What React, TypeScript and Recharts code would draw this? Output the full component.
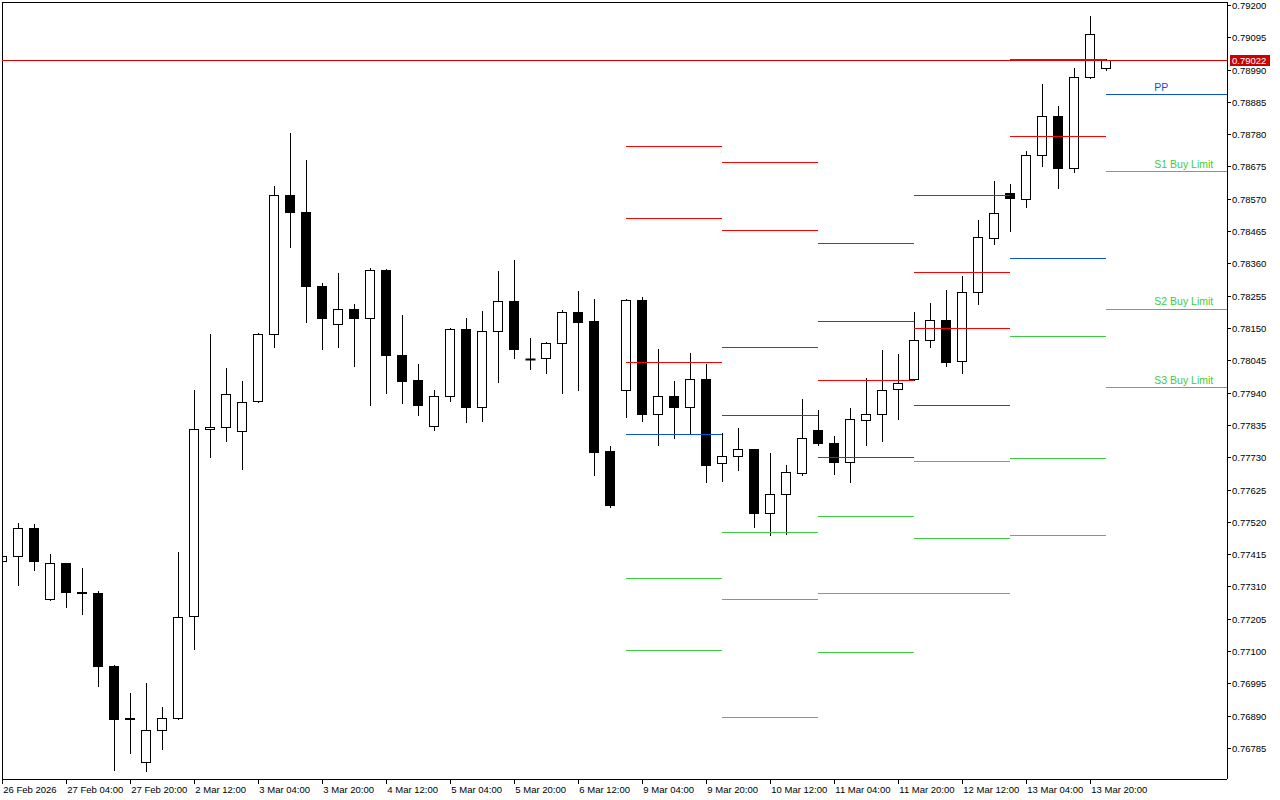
import React from 'react';
import { ComposedChart, Bar, XAxis, YAxis, ReferenceLine, ReferenceDot } from 'recharts';

// ---- candles (4H), index 0 = 26 Feb 16:00 ----
const candleIdx = [-1, 0, 1, 2, 3, 4, 5, 6, 7, 8, 9, 10, 11, 12, 13, 14, 15, 16, 17, 18, 19, 20, 21, 22, 23, 24, 25, 26, 27, 28, 29, 30, 31, 32, 33, 34, 35, 36, 37, 38, 39, 40, 41, 42, 43, 44, 45, 46, 47, 48, 49, 50, 51, 52, 53, 54, 55, 56, 57, 58, 59, 60, 61, 62, 63, 64, 65, 66, 67, 68];
const opens = [0.77394, 0.77409, 0.77500, 0.77269, 0.77386, 0.77291, 0.77289, 0.77052, 0.76880, 0.76740, 0.76844, 0.76883, 0.77214, 0.77821, 0.77828, 0.77815, 0.77912, 0.78131, 0.78583, 0.78527, 0.78287, 0.78163, 0.78211, 0.78182, 0.78338, 0.78062, 0.77981, 0.77831, 0.77929, 0.78146, 0.77893, 0.78140, 0.78237, 0.78049, 0.78052, 0.78101, 0.78202, 0.78173, 0.77750, 0.77948, 0.78241, 0.77870, 0.77929, 0.77893, 0.77984, 0.77711, 0.77734, 0.77757, 0.77548, 0.77610, 0.77678, 0.77818, 0.77776, 0.77714, 0.77851, 0.77870, 0.77951, 0.77984, 0.78111, 0.78176, 0.78042, 0.78267, 0.78442, 0.78589, 0.78569, 0.78712, 0.78838, 0.78668, 0.78965, 0.78993];
const highs = [0.77420, 0.77517, 0.77514, 0.77416, 0.77387, 0.77371, 0.77296, 0.77056, 0.76965, 0.76997, 0.76919, 0.77423, 0.77949, 0.78131, 0.78020, 0.77978, 0.78134, 0.78612, 0.78784, 0.78696, 0.78296, 0.78328, 0.78228, 0.78345, 0.78341, 0.78193, 0.78034, 0.77949, 0.78150, 0.78182, 0.78206, 0.78336, 0.78372, 0.78118, 0.78104, 0.78208, 0.78271, 0.78245, 0.77767, 0.78243, 0.78251, 0.78082, 0.77978, 0.78069, 0.78034, 0.77808, 0.77826, 0.77758, 0.77744, 0.77705, 0.77920, 0.77884, 0.77800, 0.77891, 0.77987, 0.78079, 0.78064, 0.78203, 0.78232, 0.78274, 0.78320, 0.78502, 0.78628, 0.78618, 0.78726, 0.78943, 0.78872, 0.78994, 0.79165, 0.79023];
const lows = [0.77384, 0.77313, 0.77362, 0.77265, 0.77243, 0.77219, 0.76985, 0.76712, 0.76767, 0.76709, 0.76781, 0.76879, 0.77105, 0.77729, 0.77784, 0.77693, 0.77909, 0.78087, 0.78414, 0.78170, 0.78081, 0.78087, 0.78025, 0.77899, 0.77940, 0.77905, 0.77866, 0.77817, 0.77911, 0.77843, 0.77846, 0.77973, 0.78051, 0.78018, 0.78002, 0.77937, 0.77947, 0.77671, 0.77567, 0.77859, 0.77846, 0.77768, 0.77791, 0.77806, 0.77648, 0.77651, 0.77689, 0.77504, 0.77476, 0.77479, 0.77671, 0.77768, 0.77674, 0.77648, 0.77768, 0.77781, 0.77853, 0.77981, 0.78087, 0.78025, 0.78005, 0.78227, 0.78424, 0.78465, 0.78543, 0.78675, 0.78606, 0.78655, 0.78961, 0.78987];
const closes = [0.77410, 0.77500, 0.77394, 0.77386, 0.77291, 0.77290, 0.77050, 0.76879, 0.76881, 0.76844, 0.76883, 0.77211, 0.77821, 0.77828, 0.77935, 0.77909, 0.78130, 0.78583, 0.78527, 0.78287, 0.78181, 0.78211, 0.78181, 0.78338, 0.78061, 0.77979, 0.77901, 0.77929, 0.78146, 0.77892, 0.78140, 0.78237, 0.78083, 0.78050, 0.78101, 0.78202, 0.78168, 0.77747, 0.77573, 0.78241, 0.77869, 0.77929, 0.77892, 0.77984, 0.77706, 0.77734, 0.77757, 0.77550, 0.77610, 0.77682, 0.77792, 0.77775, 0.77713, 0.77854, 0.77870, 0.77948, 0.77971, 0.78111, 0.78176, 0.78038, 0.78267, 0.78446, 0.78523, 0.78571, 0.78712, 0.78838, 0.78668, 0.78965, 0.79105, 0.79022];

// ---- x axis labels ----
const xTickIdx = [-1, 3, 7, 11, 15, 19, 23, 27, 31, 35, 39, 43, 47, 51, 55, 59, 63, 67];
const xTickLabels = ['26 Feb 2026', '27 Feb 04:00', '27 Feb 20:00', '2 Mar 12:00', '3 Mar 04:00', '3 Mar 20:00', '4 Mar 12:00', '5 Mar 04:00', '5 Mar 20:00', '6 Mar 12:00', '9 Mar 04:00', '9 Mar 20:00', '10 Mar 12:00', '11 Mar 04:00', '11 Mar 20:00', '12 Mar 12:00', '13 Mar 04:00', '13 Mar 20:00'];

// ---- y axis ticks ----
const yTicks = [0.792, 0.79095, 0.7899, 0.78885, 0.7878, 0.78675, 0.7857, 0.78465, 0.7836, 0.78255, 0.7815, 0.78045, 0.7794, 0.77835, 0.7773, 0.77625, 0.7752, 0.77415, 0.7731, 0.77205, 0.771, 0.76995, 0.7689, 0.76785];

// ---- daily pivot levels (9, 10, 11, 12, 13, 16 Mar) ----
const dayStart = [38, 44, 50, 56, 62, 68];
const dayEnd = [44, 50, 56, 62, 68, 75.54375];
const pivR3 = [0.78741, 0.78689, 0.78426, 0.78582, 0.79421, 0.80057];
const pivR2 = [0.78507, 0.78468, 0.78173, 0.78332, 0.79024, 0.79611];
const pivR1 = [0.78039, 0.78088, 0.77981, 0.78150, 0.78774, 0.79357];
const pivPP = [0.77806, 0.77867, 0.77731, 0.77900, 0.78377, 0.78910];
const pivS1 = [0.77338, 0.77487, 0.77539, 0.77718, 0.78124, 0.78660];
const pivS2 = [0.77104, 0.77269, 0.77289, 0.77468, 0.77728, 0.78212];
const pivS3 = [0.76635, 0.76886, 0.77097, 0.77289, 0.77477, 0.77958];

const labelIdx = 71;
const labelNames = ['PP', 'S1 Buy Limit', 'S2 Buy Limit', 'S3 Buy Limit'];
const BID = 0.79022;

const X_MIN = -1.01875;
const X_MAX = 75.54375;
const Y_MIN = 0.76686;
const Y_MAX = 0.79211;

const RED = '#ff0000';
const BLUE = '#0b50d8';
const GREEN = '#3ccc3c';
const FONT = '"Liberation Sans", Arial, sans-serif';

const data = candleIdx.map((k, i) => ({
  k,
  range: [lows[i], highs[i]],
  o: opens[i],
  h: highs[i],
  l: lows[i],
  c: closes[i],
}));

const Candle = (props: any) => {
  const { x, y, width, height, payload } = props;
  if (x == null || y == null || !payload) return null;
  const top = Math.min(y, y + height);
  const bottom = Math.max(y, y + height);
  const { o, h, l, c } = payload;
  const span = h - l;
  const py = (v: number) => (span === 0 ? top : top + ((h - v) / span) * (bottom - top));
  const cx = Math.floor(x + width / 2) + 0.5;
  const yO = py(o);
  const yC = py(c);
  const bull = c >= o;
  const row = (v: number) => Math.floor(v - 0.1);
  const bTop = row(Math.min(yO, yC)) + 0.5;
  const bBot = row(Math.max(yO, yC)) + 0.5;
  return (
    <g>
      <line x1={cx} x2={cx} y1={row(top)} y2={row(bottom) + 1} stroke="#000" strokeWidth={1} />
      {bBot - bTop < 1 ? (
        <line x1={cx - 5} x2={cx + 5} y1={bTop} y2={bTop} stroke="#000" strokeWidth={2} />
      ) : (
        <rect x={cx - 5} y={bTop} width={9} height={bBot - bTop} fill={bull ? '#fff' : '#000'} stroke="#000" strokeWidth={1} />
      )}
    </g>
  );
};

const XTick = (props: any) => {
  const { x, y, payload } = props;
  const i = xTickIdx.indexOf(payload.value);
  return (
    <text x={x + 1} y={y + 7} fontSize={9.5} fontFamily={FONT} fill="#000" textAnchor="start">
      {i >= 0 ? xTickLabels[i] : ''}
    </text>
  );
};

const YTick = (props: any) => {
  const { x, y, payload } = props;
  return (
    <text x={x} y={y + 3.5} fontSize={9.5} fontFamily={FONT} fill="#000" textAnchor="start">
      {Number(payload.value).toFixed(5)}
    </text>
  );
};

const PivotText = (props: any) => {
  const { viewBox, caption, tone } = props;
  if (!viewBox) return null;
  return (
    <text x={viewBox.x} y={viewBox.y - 4} fontSize={10.5} fontFamily={FONT} fill={tone}>
      {caption}
    </text>
  );
};

const BidLabel = (props: any) => {
  const { viewBox } = props;
  if (!viewBox) return null;
  const right = viewBox.x + viewBox.width;
  const yy = Math.floor(viewBox.y);
  return (
    <g>
      <rect x={right + 3} y={yy - 5} width={40} height={11} fill="#cc0000" />
      <text x={right + 5} y={yy + 4} fontSize={9.5} fontFamily={FONT} fill="#fff">
        {BID.toFixed(5)}
      </text>
    </g>
  );
};

const inY = (v: number | null) => v != null && v >= Y_MIN && v <= Y_MAX;

export default function App() {
  const pivotSets: { vals: number[]; color: string }[] = [
    { vals: pivR3, color: RED },
    { vals: pivR2, color: RED },
    { vals: pivR1, color: RED },
    { vals: pivPP, color: BLUE },
    { vals: pivS1, color: GREEN },
    { vals: pivS2, color: GREEN },
    { vals: pivS3, color: GREEN },
  ];
  const lastDay = dayStart.length - 1;
  const labelVals = [pivPP[lastDay], pivS1[lastDay], pivS2[lastDay], pivS3[lastDay]];
  const labelColors = [BLUE, GREEN, GREEN, GREEN];

  return (
    <div style={{ position: 'absolute', left: 0, top: 0, width: 1280, height: 800, background: '#fff' }}>
      <ComposedChart
        width={1280}
        height={800}
        data={data}
        margin={{ top: 2, right: 0, bottom: 0, left: 2 }}
        style={{ fontFamily: FONT }}
      >
        <XAxis
          dataKey="k"
          type="number"
          domain={[X_MIN, X_MAX]}
          allowDataOverflow
          ticks={xTickIdx}
          interval={0}
          height={21}
          tickSize={5}
          tickMargin={2}
          tick={<XTick />}
          stroke="#000"
          tickLine={{ stroke: '#000', shapeRendering: 'crispEdges' }}
          axisLine={{ stroke: '#000', shapeRendering: 'crispEdges' }}
        />
        <YAxis
          orientation="right"
          type="number"
          domain={[Y_MIN, Y_MAX]}
          allowDataOverflow
          ticks={yTicks}
          interval={0}
          width={53}
          tickSize={4}
          tickMargin={1}
          tick={<YTick />}
          stroke="#000"
          tickLine={{ stroke: '#000', shapeRendering: 'crispEdges' }}
          axisLine={{ stroke: '#000', shapeRendering: 'crispEdges' }}
        />
        <ReferenceLine x={X_MIN} stroke="#000" ifOverflow="visible" shapeRendering="crispEdges" />
        <ReferenceLine y={Y_MAX} stroke="#000" ifOverflow="visible" shapeRendering="crispEdges" />
        <Bar dataKey="range" barSize={10} shape={(p: any) => <Candle {...p} />} isAnimationActive={false} />
        {pivotSets.map((set, si) =>
          dayStart.map((ds, di) =>
            inY(set.vals[di]) ? (
              <ReferenceLine
                key={`p${si}-${di}`}
                segment={[
                  { x: ds, y: set.vals[di] },
                  { x: dayEnd[di], y: set.vals[di] },
                ]}
                stroke={set.color}
                strokeWidth={1}
                ifOverflow="visible"
                shapeRendering="crispEdges"
              />
            ) : null
          )
        )}
        <ReferenceLine y={BID} stroke="#e00000" strokeWidth={1} shapeRendering="crispEdges" label={<BidLabel />} />
        {labelNames.map((name, i) => (
          <ReferenceDot
            key={name}
            x={labelIdx}
            y={labelVals[i]}
            r={0}
            fill="none"
            stroke="none"
            label={<PivotText caption={name} tone={labelColors[i]} />}
          />
        ))}
      </ComposedChart>
    </div>
  );
}
